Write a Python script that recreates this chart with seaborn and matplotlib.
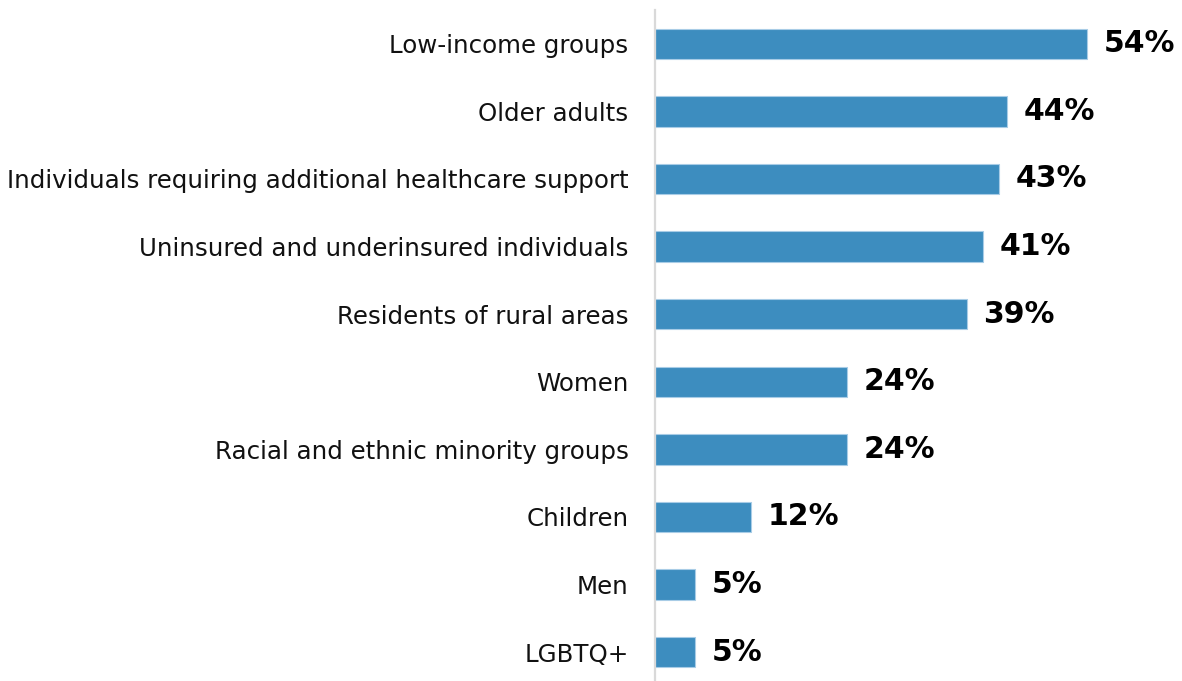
import matplotlib
matplotlib.use("Agg")
import matplotlib.pyplot as plt
import seaborn as sns
import pandas as pd

groups = [
    "Low-income groups",
    "Older adults",
    "Individuals requiring additional healthcare support",
    "Uninsured and underinsured individuals",
    "Residents of rural areas",
    "Women",
    "Racial and ethnic minority groups",
    "Children",
    "Men",
    "LGBTQ+",
]
shares = [54, 44, 43, 41, 39, 24, 24, 12, 5, 5]

df = pd.DataFrame({"group": groups, "share": shares})

sns.set_theme(style="white")
plt.rcParams["font.family"] = ["DejaVu Sans"]

fig = plt.figure(figsize=(11.82, 6.81), dpi=100)
ax = fig.add_axes([655 / 1182, -5 / 681, 527 / 1182, 676 / 681])

sns.barplot(data=df, x="share", y="group", orient="h", color="#3d8dbf",
            saturation=1, width=0.45, edgecolor="#a8cce6", linewidth=0.8, ax=ax)

for value, patch in zip(shares, ax.patches):
    ax.annotate(f"{value}%", xy=(patch.get_width(), patch.get_y() + patch.get_height() / 2),
                xytext=(12, 0), textcoords="offset points", ha="left", va="center",
                fontsize=21.5, fontweight="bold", color="#000000")

ax.set_xlim(0, 65.9)
ax.set_ylim(9.5, -0.5)
ax.set_xlabel("")
ax.set_ylabel("")
ax.set_xticks([])
ax.tick_params(axis="y", length=0, pad=19, labelsize=17.62, labelcolor="#111111")
for side in ["top", "right", "bottom"]:
    ax.spines[side].set_visible(False)
ax.spines["left"].set_color("#d9d9d9")
ax.spines["left"].set_linewidth(1.6)

fig.savefig("out.png", dpi=100)
